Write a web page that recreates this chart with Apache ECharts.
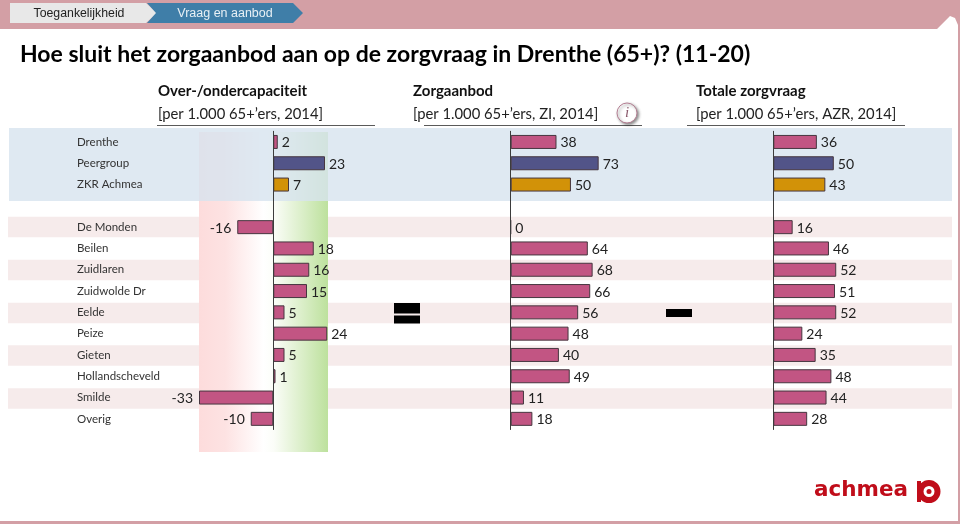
<!DOCTYPE html>
<html>
<head>
<meta charset="utf-8">
<script src="https://cdn.jsdelivr.net/npm/echarts@6/dist/echarts.min.js"></script>
<style>html,body{margin:0;padding:0;background:#fff}#c{width:960px;height:524px}</style>
</head>
<body>
<div id="c"></div>
<script>
var categories = ['Drenthe','Peergroup','ZKR Achmea','','De Monden','Beilen','Zuidlaren','Zuidwolde Dr','Eelde','Peize','Gieten','Hollandscheveld','Smilde','Overig'];
var capaciteit = [2,23,7,null,-16,18,16,15,5,24,5,1,-33,-10];
var zorgaanbod = [38,73,50,null,0,64,68,66,56,48,40,49,11,18];
var zorgvraag  = [36,50,43,null,16,46,52,51,52,24,35,48,44,28];
var titleText = 'Hoe sluit het zorgaanbod aan op de zorgvraag in Drenthe (65+)? (11-20)';
var navTabs = ['Toegankelijkheid','Vraag en aanbod'];
var headings = ['Over-/ondercapaciteit','Zorgaanbod','Totale zorgvraag'];
var subHeadings = ['[per 1.000 65+\u2019ers, 2014]','[per 1.000 65+\u2019ers, ZI, 2014]','[per 1.000 65+\u2019ers, AZR, 2014]'];
var logoText = 'achmea';

var FONT = 'Lato, "Open Sans", sans-serif';
var PINK = '#c25583', PURPLE = '#525488', GOLD = '#d29208', EDGE = '#46363f';
var ROSE = '#d39fa5';

function barData(arr){
  return arr.map(function(v,i){
    return {value:v, itemStyle:{color:i===1?PURPLE:(i===2?GOLD:PINK)},
      label:{position:v<0?'left':'right',distance:v<0?6:4}};
  });
}
function barSeries(arr,idx){
  return {
    type:'bar', xAxisIndex:idx, yAxisIndex:idx, barWidth:14, z:3, silent:true,
    data:barData(arr),
    itemStyle:{borderColor:EDGE,borderWidth:1},
    label:{show:true,offset:[0,1],fontFamily:FONT,fontSize:14,color:'#222',
      formatter:function(p){return p.value==null?'':String(p.value);}}
  };
}
function makeX(idx,min,max){return {gridIndex:idx,type:'value',min:min,max:max,show:false};}
function makeY(idx,withLabels){
  return {
    gridIndex:idx,type:'category',inverse:true,data:categories,z:4,
    axisLine:{show:true,onZero:true,lineStyle:{color:'#3c3c3c',width:1}},
    axisTick:{show:false},
    axisLabel:{show:withLabels,interval:0,align:'left',margin:122,fontFamily:FONT,fontSize:11.5,color:'#333',hideOverlap:false},
    splitLine:{show:false}
  };
}
var gridTop=131.3, gridHeight=298.2;
var option = {
  animation:false,
  backgroundColor:'#fff',
  title:[
    {text:titleText,left:15,top:38,textStyle:{fontFamily:FONT,fontWeight:'bold',fontSize:23,color:'#000'}}
  ],
  grid:[
    {left:199,top:gridTop,width:128.25,height:gridHeight},
    {left:510.7,top:gridTop,width:96.4,height:gridHeight},
    {left:773.3,top:gridTop,width:72.6,height:gridHeight}
  ],
  xAxis:[makeX(0,-33,24),makeX(1,0,80),makeX(2,0,60)],
  yAxis:[makeY(0,true),makeY(1,false),makeY(2,false)],
  series:[barSeries(capaciteit,0),barSeries(zorgaanbod,1),barSeries(zorgvraag,2)],
  graphic:{elements:buildDecor()}
};

function buildDecor(){
  var els=[];
  function rect(x,y,w,h,fill,z){els.push({type:'rect',silent:true,z:z||0,shape:{x:x,y:y,width:w,height:h},style:{fill:fill}});}
  function poly(pts,fill,z){els.push({type:'polygon',silent:true,z:z||1,shape:{points:pts},style:{fill:fill}});}
  function text(x,y,t,font,fill,align,z){els.push({type:'text',silent:true,z:z||5,x:x,y:y,style:{text:t,font:font,fill:fill,align:align||'left',verticalAlign:'middle'}});}

  // frame
  poly([[0,0],[960,0],[960,524],[0,524],[0,521],[958,521],[958,25],[955,18],[950,16],[937,29],[0,29]],ROSE,1);

  // nav tabs
  poly([[10,3],[146,3],[157,13],[146,23],[10,23]],'#e8e8e8',2);
  poly([[147,3],[293,3],[303,13],[293,23],[147,23],[156,13]],'#3f7ea8',2);
  text(79,14,navTabs[0],'12.3px "Liberation Sans", Arial, sans-serif','#222','center');
  text(225,14,navTabs[1],'12.5px "Liberation Sans", Arial, sans-serif','#e8f0f5','center');

  // striped rows
  var rowC=[227,270,313,355.5,398.5];
  rowC.forEach(function(c){rect(8,c-10.2,944,20.4,'#f6ebeb',0);});

  // capacity gradient panel
  els.push({type:'rect',silent:true,z:0.5,shape:{x:199,y:132,width:129,height:320},
    style:{fill:{type:'linear',x:0,y:0,x2:1,y2:0,colorStops:[
      {offset:0,color:'#fddcdc'},{offset:0.2,color:'#fde2e2'},{offset:0.5,color:'#fff'},{offset:0.58,color:'#fbfdf8'},{offset:1,color:'#bde19d'}]}}});
  // blue summary band
  rect(9,128,943,73,'rgba(215,227,239,0.8)',0.8);

  // headings
  var hx=[158,413,696];
  var lines=[[157,375],[424,642],[687,905]];
  headings.forEach(function(h,i){
    text(hx[i],91.5,h,'bold 15px '+FONT,'#111');
    text(hx[i],114,subHeadings[i],'14.8px '+FONT,'#222');
    els.push({type:'line',silent:true,z:3,shape:{x1:lines[i][0],y1:125.5,x2:lines[i][1],y2:125.5},style:{stroke:'#5a5a5a',lineWidth:1}});
  });

  // info icon
  els.push({type:'circle',silent:true,z:3,shape:{cx:627,cy:113,r:10},
    style:{fill:'#fff',stroke:'#b57f93',lineWidth:1,shadowBlur:3,shadowColor:'rgba(0,0,0,.45)',shadowOffsetX:1.5,shadowOffsetY:1.5}});
  text(627,113,'i','italic 15px "Liberation Serif", serif','#8a5a6c','center',6);

  // equals and minus signs
  rect(394,303,26,10.5,'#000',2);
  rect(394,315.5,26,8,'#000',2);
  rect(666,309,26,8,'#000',2);

  // logo
  text(814,490.5,logoText,'900 21.5px "DejaVu Sans", Lato, sans-serif','#c00d1a','left');
  els.push({type:'circle',silent:true,z:3,shape:{cx:929,cy:491.5,r:8.5},style:{fill:'#fff',stroke:'#c00d1a',lineWidth:6}});
  rect(917,481,4,21,'#c00d1a',3);
  els.push({type:'circle',silent:true,z:4,shape:{cx:929,cy:491.5,r:2.5},style:{fill:'#c00d1a'}});
  return els;
}
var chart = echarts.init(document.getElementById('c'),null,{renderer:'canvas'});
chart.setOption(option);
</script>
</body>
</html>
